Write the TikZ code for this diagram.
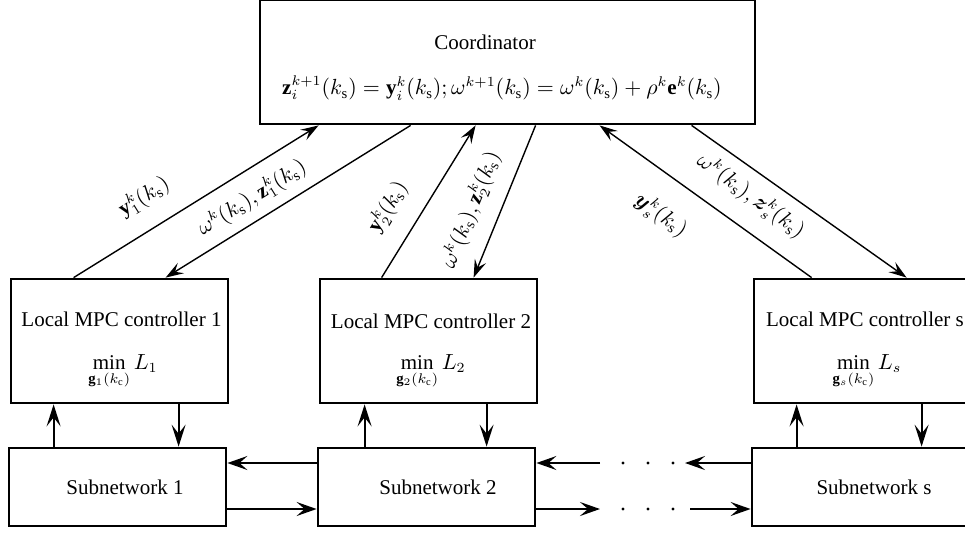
\documentclass[tikz,border=0pt]{standalone}
\usepackage{amsmath,amssymb}
\usepackage{fontspec}
\setmainfont{Liberation Serif}
\usetikzlibrary{arrows.meta,calc}
\begin{document}
\begin{tikzpicture}[x=0.5pt,y=-0.5pt,
  box/.style={draw, line width=1.4pt, inner sep=0pt, minimum width=108.5pt, minimum height=62pt},
  subbox/.style={box, minimum height=39pt},
  txt/.style={font=\fontsize{10.5}{12.6}\selectfont, inner sep=0pt},
  thinarrow/.style={line width=0.7pt, -{Stealth[length=9pt,width=6pt,inset=3.5pt]}},
  vertarrow/.style={line width=0.9pt, -{Stealth[length=11pt,width=7pt,inset=4.5pt]}},
  horarrow/.style={line width=1.1pt, -{Stealth[length=10pt,width=7pt,inset=4pt]}}
  ]
\useasboundingbox (0,0) rectangle (965,532);
\clip (0,0) rectangle (965,532);
% boxes
\node[box, minimum width=247.5pt, minimum height=62pt] (coord) at (507.5,62) {};
\node[box] (mpc1) at (119.5,341) {};
\node[box] (mpc2) at (428.5,341) {};
\node[box] (mpcs) at (862.5,341) {};
\node[subbox] (sub1) at (117.5,487) {};
\node[subbox] (sub2) at (426.5,487) {};
\node[subbox] (subs) at (860.5,487) {};
% texts
\node[txt] (tcoord) at (485,42) {Coordinator};
\node[txt] (tform) at (502,88) {$\mathbf{z}_i^{k+1}(k_\mathrm{s})=\mathbf{y}_i^k(k_\mathrm{s});\omega^{k+1}(k_\mathrm{s})=\omega^k(k_\mathrm{s})+\rho^k\mathbf{e}^k(k_\mathrm{s})$};
\node[txt] (tmpc1) at (121.5,319) {Local MPC controller 1};
\node[txt] (tmpc2) at (431,321) {Local MPC controller 2};
\node[txt] (tmpcs) at (865,319) {Local MPC controller s};
\node[txt] (tmin1) at (123,372) {$\min\limits_{\mathbf{g}_1(k_\mathrm{c})} L_1$};
\node[txt] (tmin2) at (431,372) {$\min\limits_{\mathbf{g}_2(k_\mathrm{c})} L_2$};
\node[txt] (tmins) at (867,372) {$\min\limits_{\mathbf{g}_s(k_\mathrm{c})} L_s$};
\node[txt] (tsub1) at (125,487) {Subnetwork 1};
\node[txt] (tsub2) at (438,487) {Subnetwork 2};
\node[txt] (tsubs) at (874,487) {Subnetwork s};
% diagonal connectors
\draw[thinarrow] ($(mpc1.north west)+(64,0)$) -- ($(coord.south west)+(60,0)$);
\draw[thinarrow] ($(coord.south west)+(152,0)$) -- ($(mpc1.north west)+(156,0)$);
\draw[thinarrow] ($(mpc2.north west)+(63,0)$) -- ($(coord.south west)+(217,0)$);
\draw[thinarrow] ($(coord.south west)+(277,0)$) -- ($(mpc2.north west)+(155,0)$);
\draw[thinarrow] ($(mpcs.north west)+(59,0)$) -- ($(coord.south west)+(341,0)$);
\draw[thinarrow] ($(coord.south west)+(433,0)$) -- ($(mpcs.north west)+(154,0)$);
% labels
\node[txt, rotate=32] (ly1) at (144,197) {$\mathbf{y}_1^k(k_\mathrm{s})$};
\node[txt, rotate=32] (lw1) at (252,198) {$\omega^k(k_\mathrm{s}),\mathbf{z}_1^k(k_\mathrm{s})$};
\node[txt, rotate=59] (ly2) at (388,207) {$\mathbf{y}_2^k(k_\mathrm{s})$};
\node[txt, rotate=68] (lw2) at (471,210) {$\omega^k(k_\mathrm{s}),\mathbf{z}_2^k(k_\mathrm{s})$};
\node[txt, rotate=-36] (lys) at (661,215) {$\boldsymbol{y}_s^k(k_\mathrm{s})$};
\node[txt, rotate=-36] (lws) at (751,196) {$\omega^k(k_\mathrm{s}),\boldsymbol{z}_s^k(k_\mathrm{s})$};
% vertical connectors
\draw[vertarrow] ($(sub1.north west)+(46,0)$) -- ($(mpc1.south west)+(44,0)$);
\draw[vertarrow] ($(mpc1.south west)+(169,0)$) -- ($(sub1.north west)+(171,0)$);
\draw[vertarrow] ($(sub2.north west)+(48,0)$) -- ($(mpc2.south west)+(46,0)$);
\draw[vertarrow] ($(mpc2.south west)+(168,0)$) -- ($(sub2.north west)+(170,0)$);
\draw[vertarrow] ($(subs.north west)+(46,0)$) -- ($(mpcs.south west)+(44,0)$);
\draw[vertarrow] ($(mpcs.south west)+(169,0)$) -- ($(subs.north west)+(171,0)$);
% horizontal connectors
\coordinate (a1) at (685,463);
\coordinate (a2) at (600,463);
\coordinate (b1) at (600,509);
\coordinate (b2) at (690,509);
\draw[horarrow] (sub2.west |- a1) -- (sub1.east |- a1);
\draw[horarrow] (sub1.east |- b1) -- (sub2.west |- b1);
\draw[horarrow] (subs.west |- a1) -- (a1);
\draw[horarrow] (a2) -- (sub2.east |- a2);
\draw[horarrow] (sub2.east |- b1) -- (b1);
\draw[horarrow] (b2) -- (subs.west |- b2);
% dots
\foreach \dx in {623,648,673}{
  \fill (\dx,463) circle (0.8pt);
  \fill (\dx,509) circle (0.8pt);
}
\end{tikzpicture}
\end{document}
